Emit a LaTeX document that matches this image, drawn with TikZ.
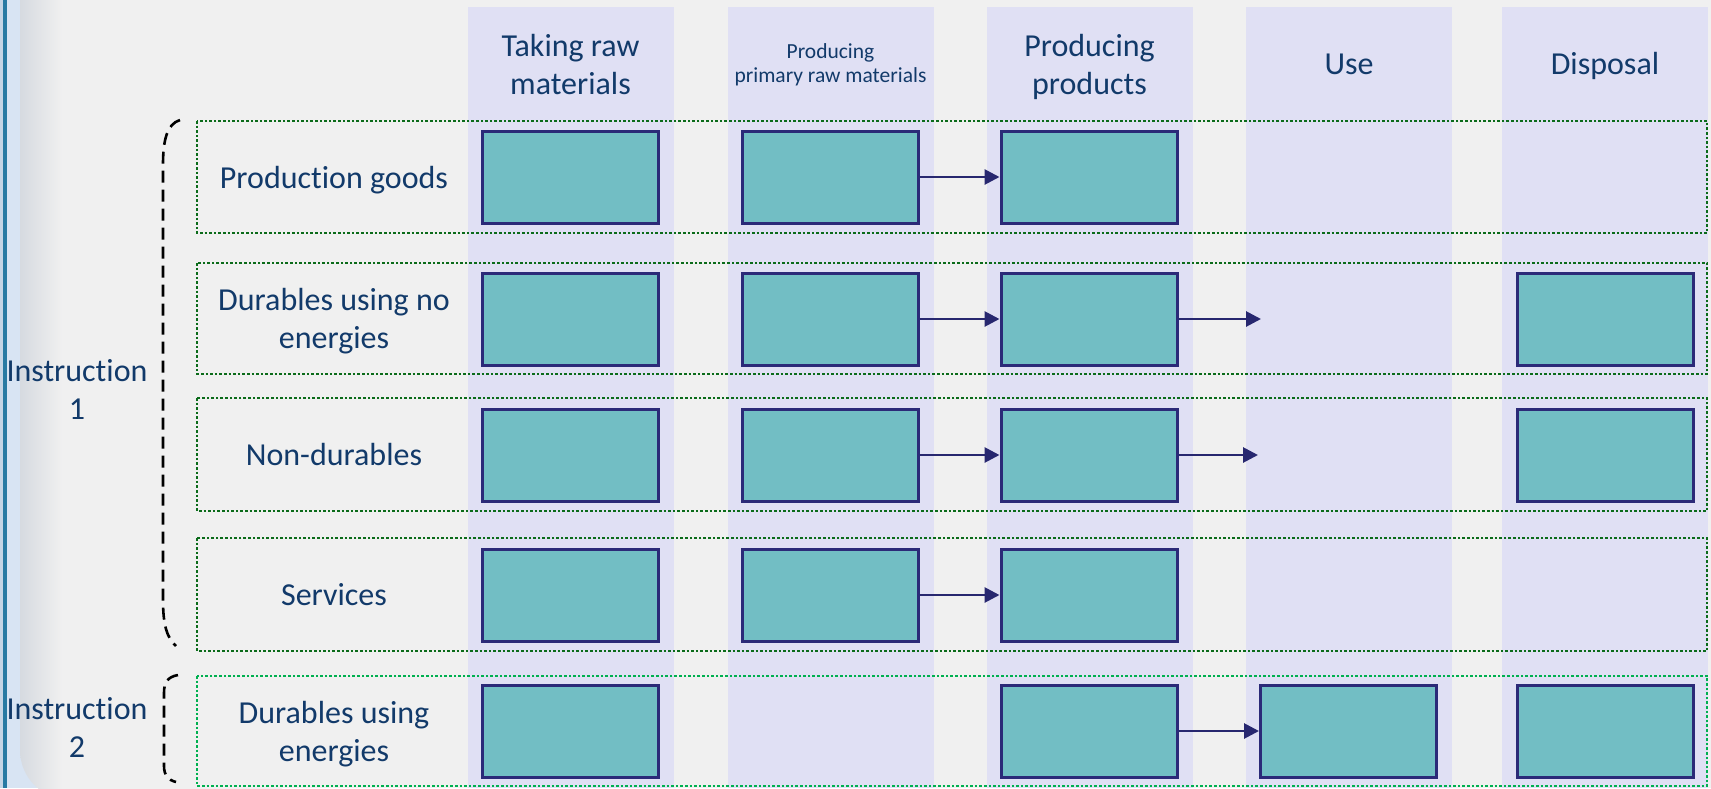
\documentclass[tikz,border=0pt]{standalone}
\usepackage{fontspec}
\setmainfont{Carlito}[Ligatures=NoCommon]
\usetikzlibrary{arrows.meta}

\definecolor{bgc}{HTML}{F0F0F0}
\definecolor{bandc}{HTML}{E0E0F4}
\definecolor{boxfill}{HTML}{72BEC4}
\definecolor{boxline}{HTML}{2B2A78}
\definecolor{arrowc}{HTML}{27276F}
\definecolor{txt}{HTML}{123A6A}
\definecolor{rowgreen}{HTML}{0B6B1A}
\definecolor{rowlight}{HTML}{00B050}
\definecolor{stripe}{HTML}{287AA3}
\definecolor{stripeedge}{HTML}{C5D5E5}
\definecolor{paleblue}{HTML}{D8E4F3}
\definecolor{frameshade}{HTML}{D6DAE0}

\begin{document}
\begin{tikzpicture}[x=1pt,y=-1pt,
  stagebox/.style={draw=boxline, fill=boxfill, line width=3pt,
    minimum width=176pt, minimum height=92pt, inner sep=0pt},
  flow/.style={draw=arrowc, line width=2.8pt,
    -{Triangle[length=15pt,width=15pt]}},
  group/.style={draw=rowgreen, line width=2.8pt, dash pattern=on 2.6pt off 2pt},
  lbl/.style={text=txt, font=\fontsize{32}{38}\selectfont, align=center, inner sep=0pt},
  smalllbl/.style={text=txt, font=\fontsize{21.5}{24.5}\selectfont, align=center, inner sep=0pt},
  brace/.style={draw=black, line width=2.6pt, dash pattern=on 12pt off 7pt}
]
\useasboundingbox (0,0) rectangle (1711,788);
\fill[bgc] (0,0) rectangle (1711,788);

% slide frame on the left edge
\fill[stripeedge] (0,0) rectangle (3,788);
\fill[stripe] (3,0) rectangle (7,788);
\fill[paleblue] (7,0) rectangle (80,788);
\begin{scope}
  \clip[rounded corners=50pt] (20,-60) rectangle (300,800);
  \shade[left color=frameshade, right color=bgc] (20,-60) rectangle (62,800);
  \fill[bgc] (61.5,-60) rectangle (300,800);
\end{scope}

% stage columns
\foreach \l in {468,728,987,1246,1502}
  \fill[bandc] (\l,7) rectangle ++(205.5,781);

% stage headers
\node[lbl] (h1) at (570.5,64.5) {Taking raw\\materials};
\node[smalllbl] (h2) at (830.5,65) {Producing\\primary raw materials};
\node[lbl] (h3) at (1089.5,67) {Producing\\products};
\node[lbl] (h4) at (1349,64) {Use};
\node[lbl] (h5) at (1605,66) {Disposal};

% product groups
\draw[group] (197,121) rectangle (1707,233);
\draw[group] (197,263) rectangle (1707,374);
\draw[group] (197,398) rectangle (1707,511);
\draw[group] (197,538) rectangle (1707,651);
\draw[group, draw=rowlight] (197,676) rectangle (1707,786);

\node[lbl] (g1) at (334,180) {Production goods};
\node[lbl] (g2) at (334,321) {Durables using no\\energies};
\node[lbl] (g3) at (334,454) {Non-durables};
\node[lbl] (g4) at (334,594.5) {Services};
\node[lbl] (g5) at (334,734) {Durables using\\energies};

% instruction brackets
\draw[brace] (180,120) .. controls (167,124) and (163,140) .. (163,165)
  -- (163,600) .. controls (163,625) and (167,638) .. (176,646);
\draw[brace] (178,675) .. controls (167,677) and (164,683) .. (164,693)
  -- (164,766) .. controls (164,775) and (168,780) .. (176,782);
\node[lbl] (i1) at (77,389) {Instruction\\1};
\node[lbl] (i2) at (77,727) {Instruction\\2};

% stage boxes: row 1
\node[stagebox] (a1) at (570.5,177) {};
\node[stagebox] (b1) at (830,177) {};
\node[stagebox] (c1) at (1089,177) {};
% row 2
\node[stagebox] (a2) at (570.5,319) {};
\node[stagebox] (b2) at (830,319) {};
\node[stagebox] (c2) at (1089,319) {};
\node[stagebox] (e2) at (1605,319) {};
% row 3
\node[stagebox] (a3) at (570.5,455) {};
\node[stagebox] (b3) at (830,455) {};
\node[stagebox] (c3) at (1089,455) {};
\node[stagebox] (e3) at (1605,455) {};
% row 4
\node[stagebox] (a4) at (570.5,595) {};
\node[stagebox] (b4) at (830,595) {};
\node[stagebox] (c4) at (1089,595) {};
% row 5
\node[stagebox] (a5) at (570.5,731) {};
\node[stagebox] (c5) at (1089,731) {};
\node[stagebox] (d5) at (1348.5,731) {};
\node[stagebox] (e5) at (1605,731) {};

% flows
\coordinate (u2) at (1261,319);
\coordinate (u3) at (1258,455);
\draw[flow] (b1.east) -- (c1.west);
\draw[flow] (b2.east) -- (c2.west);
\draw[flow] (c2.east) -- (u2);
\draw[flow] (b3.east) -- (c3.west);
\draw[flow] (c3.east) -- (u3);
\draw[flow] (b4.east) -- (c4.west);
\draw[flow] (c5.east) -- (d5.west);
\end{tikzpicture}
\end{document}
